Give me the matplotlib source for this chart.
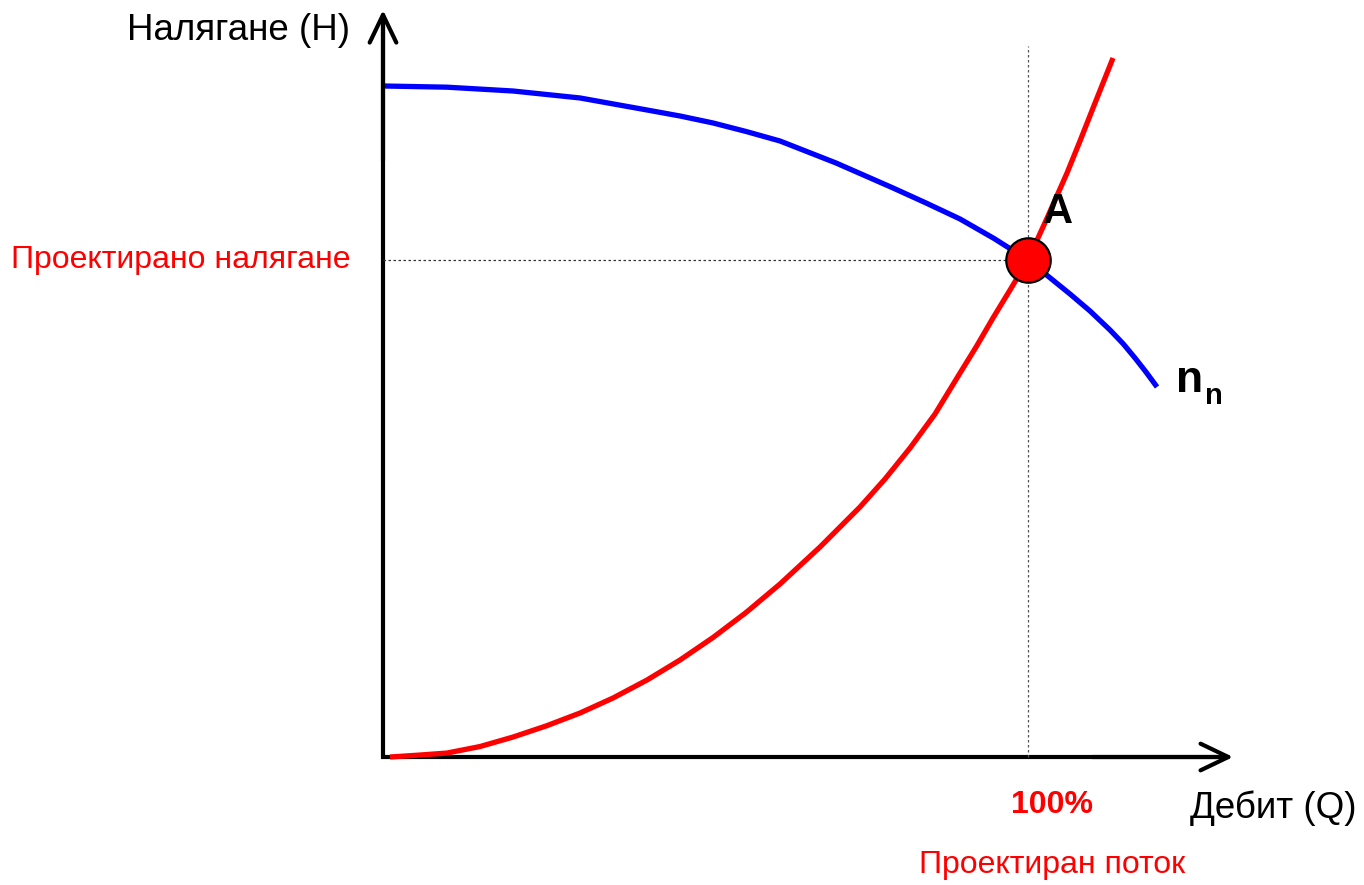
import matplotlib.pyplot as plt

plt.rcParams['font.family'] = ['Liberation Sans', 'DejaVu Sans']

# pump curve n_n (blue), Q and H in % of the design point
pump_q = [0, 9.92, 20.16, 30.54, 40.93, 46.05, 51.16, 56.28, 61.55, 70.23, 79.07,
          84.19, 89.46, 94.73, 100, 106.51, 109.61, 112.71, 114.73, 116.59, 118.29, 120.0]
pump_h = [135.01, 134.77, 134.00, 132.60, 130.18, 128.97, 127.57, 125.86, 123.94, 119.52, 114.49,
          111.47, 108.25, 104.33, 100, 93.16, 89.74, 85.92, 83.18, 80.28, 77.46, 74.45]

# system curve (red)
sys_q = [1.09, 5.74, 9.92, 15.04, 20.16, 25.27, 30.54, 35.66, 40.93, 46.05, 51.16, 56.28,
         61.55, 67.75, 73.95, 77.83, 81.71, 85.58, 89.46, 92.0, 94.57, 97.21, 100,
         103.10, 106.05, 108.06, 110.08, 111.63, 113.18]
sys_h = [0, 0.40, 0.80, 2.11, 4.02, 6.24, 8.85, 11.87, 15.49, 19.52, 24.04, 29.07,
         34.81, 42.25, 50.30, 55.94, 62.17, 69.01, 77.26, 82.6, 88.33, 93.96, 100,
         108.85, 117.51, 123.94, 130.58, 135.61, 140.64]

design_q = 100
design_h = 100

fig = plt.figure(figsize=(13.64, 8.85), dpi=100)
ax = fig.add_axes([0, 0, 1, 1])
ax.set_xlim(-59.38, 152.09)
ax.set_ylim(-25.75, 152.31)
ax.axis('off')

# axes with open arrow heads
ax.plot([0, 0, 131], [149, 0, 0], color='black', lw=3, solid_joinstyle='miter', solid_capstyle='butt')
arrow = dict(arrowstyle='->,head_length=1.0,head_width=0.48', lw=3, color='black',
             mutation_scale=20, shrinkA=0, shrinkB=0)
ax.annotate('', xy=(0, 150.3), xytext=(0, 120), arrowprops=arrow)
ax.annotate('', xy=(131.8, 0), xytext=(110, 0), arrowprops=arrow)

# design point guide lines
ax.plot([0, design_q], [design_h, design_h], color='#333333', lw=0.9, ls=(0, (2, 2)))
ax.plot([design_q, design_q], [0, 143], color='#555555', lw=0.9, ls=(0, (2, 2)))

ax.plot(pump_q, pump_h, color='#0000ff', lw=3.8, solid_capstyle='butt', solid_joinstyle='round')
ax.plot(sys_q, sys_h, color='#ff0000', lw=3.8, solid_capstyle='butt', solid_joinstyle='round')

ax.plot(design_q, design_h, 'o', ms=32, mfc='#ff0000', mec='black', mew=1.6)

ax.text(-5.1, 146.2, 'Налягане (H)', fontsize=26.5, ha='right', va='center')
ax.text(-5.1, design_h, 'Проектирано налягане', fontsize=23, ha='right', va='center', color='#ff0000')
ax.text(102.3, 109.7, 'A', fontsize=30, fontweight='bold', ha='left', va='center')
ax.text(122.9, 73.4, 'n', fontsize=32, fontweight='bold', ha='left', va='baseline')
ax.text(127.4, 71.0, 'n', fontsize=21, fontweight='bold', ha='left', va='baseline')
ax.text(103.7, -9.66, '100%', fontsize=23, fontweight='bold', ha='center', va='center', color='#ff0000')
ax.text(125.1, -10.26, 'Дебит (Q)', fontsize=26.5, ha='left', va='center')
ax.text(103.7, -21.73, 'Проектиран поток', fontsize=23, ha='center', va='center', color='#ff0000')

fig.savefig('out.png', dpi=100)
